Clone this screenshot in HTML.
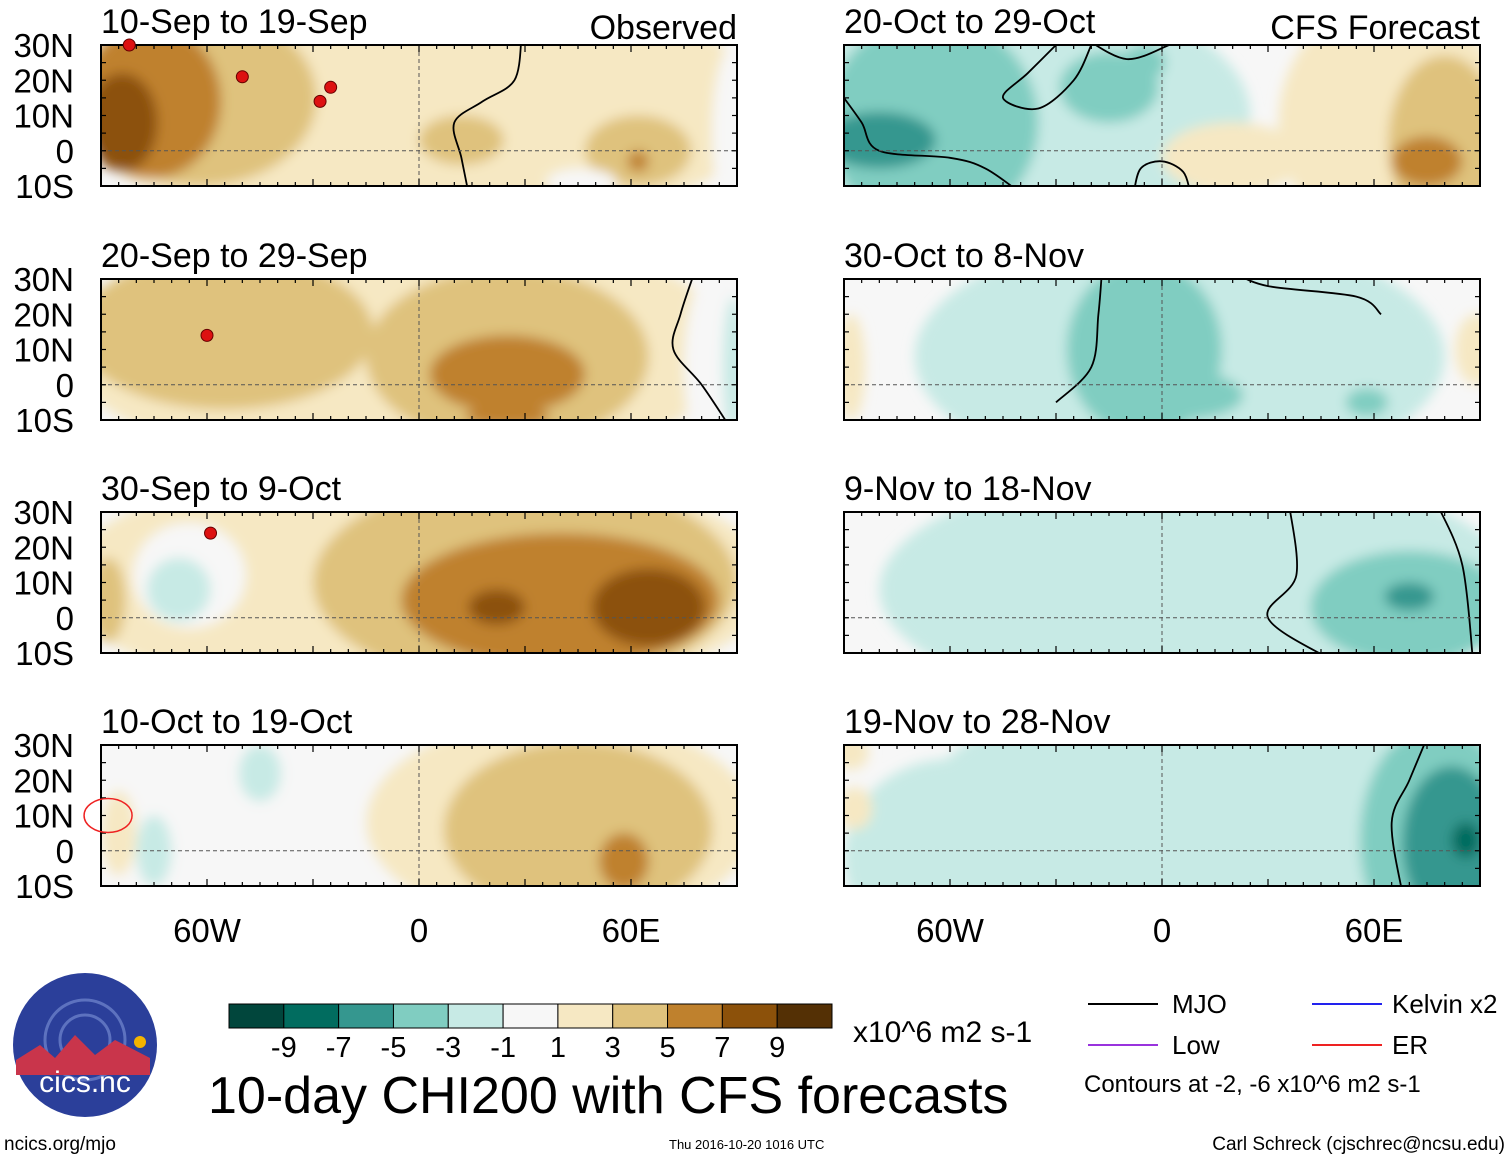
<!DOCTYPE html>
<html><head><meta charset="utf-8"><title>10-day CHI200 with CFS forecasts</title>
<style>
html,body{margin:0;padding:0;background:#fff;}
svg{display:block;font-family:"Liberation Sans",Arial,sans-serif;}
</style></head>
<body>
<svg id="chart" width="1510" height="1159" viewBox="0 0 1510 1159" xmlns="http://www.w3.org/2000/svg">
<defs id="defs"><filter id="blur" x="-20%" y="-20%" width="140%" height="140%"><feGaussianBlur stdDeviation="6"/></filter></defs>
<g id="panels"></g>
<g id="colorbar"></g>
<text x="853" y="1042" font-size="30">x10^6 m2 s-1</text>
<text x="208" y="1113" font-size="52">10-day CHI200 with CFS forecasts</text>
<text x="4" y="1150" font-size="19">ncics.org/mjo</text>
<text x="669" y="1149" font-size="13">Thu 2016-10-20 1016 UTC</text>
<text x="1505" y="1150" font-size="19" text-anchor="end">Carl Schreck (cjschrec@ncsu.edu)</text>
<g font-size="26">
<line x1="1088" y1="1004" x2="1158" y2="1004" stroke="#000" stroke-width="2"/><text x="1172" y="1013">MJO</text>
<line x1="1312" y1="1004" x2="1382" y2="1004" stroke="#2222ee" stroke-width="2"/><text x="1392" y="1013">Kelvin x2</text>
<line x1="1088" y1="1045" x2="1158" y2="1045" stroke="#9933dd" stroke-width="2"/><text x="1172" y="1054">Low</text>
<line x1="1312" y1="1045" x2="1382" y2="1045" stroke="#ee2222" stroke-width="2"/><text x="1392" y="1054">ER</text>
<text x="1084" y="1092" font-size="24">Contours at -2, -6 x10^6 m2 s-1</text>
</g>
<g>
<circle cx="85" cy="1045" r="72" fill="#2b3f9a"/>
<circle cx="85" cy="1040" r="40" fill="none" stroke="#7f95d8" stroke-width="3" opacity="0.6"/>
<circle cx="85" cy="1040" r="25" fill="none" stroke="#7f95d8" stroke-width="3" opacity="0.6"/>
<path d="M16,1060 L40,1045 L55,1058 L75,1035 L95,1055 L115,1040 L150,1058 L150,1075 L16,1075Z" fill="#c9354b"/>
<circle cx="140" cy="1042" r="6" fill="#f4b400"/>
<text x="85" y="1092" font-size="30" fill="#ffffff" text-anchor="middle">cics.nc</text>
</g>
</svg>
<script>
// Colorbar levels and colours
var levelLabels = ["-9","-7","-5","-3","-1","1","3","5","7","9"];
var levelColors = ["#01463c","#016c5f","#35978f","#80cdc1","#c7eae5","#f7f7f7","#f6e8c3","#dfc27d","#bf812d","#8c510a","#543005"];
var lonTicks = [-60,0,60];
var lonTickLabels = ["60W","0","60E"];
var latTicks = [30,20,10,0,-10];
var latTickLabels = ["30N","20N","10N","0","10S"];
var panelTitles = ["10-Sep to 19-Sep","20-Sep to 29-Sep","30-Sep to 9-Oct","10-Oct to 19-Oct","20-Oct to 29-Oct","30-Oct to 8-Nov","9-Nov to 18-Nov","19-Nov to 28-Nov"];
// anomaly blobs per panel: [lon, lat, lonRadius, latRadius, colourIndex]
var blobs0 = [[0,12,100,35,6],[-62,15,33,25,7],[-76,14,20,22,8],[-84,8,10,14,9],[12,3,12,7,7],[62,0,15,10,7],[62,-3,3,3,8],[89,5,6,25,5],[46,-9,10,4,5]];
var blobs1 = [[-5,10,95,35,6],[-55,15,42,22,7],[25,8,40,25,7],[25,3,22,11,8],[85,5,10,30,5],[89,5,3,20,4],[25,-9,12,3,8]];
var blobs2 = [[0,10,100,35,6],[-65,12,16,15,5],[-68,8,9,9,4],[30,10,60,30,7],[40,5,45,19,8],[65,3,16,11,9],[22,3,8,5,9],[-88,5,5,12,7]];
var blobs3 = [[-30,10,65,35,5],[40,8,55,30,6],[45,6,38,25,7],[58,-3,7,8,8],[-45,22,6,8,4],[-85,5,5,12,6],[-75,0,5,10,4]];
var blobs4 = [[-40,10,65,35,4],[-65,8,30,30,3],[-80,3,16,8,2],[-15,18,14,10,3],[-5,25,6,5,3],[65,8,32,35,6],[80,2,16,25,7],[75,-3,10,7,8],[20,-2,20,10,6]];
var blobs5 = [[5,8,75,35,4],[-5,10,22,25,3],[5,-3,18,7,3],[58,-5,6,4,3],[89,10,6,10,6],[-88,5,4,15,6]];
var blobs6 = [[10,8,90,35,4],[70,3,28,16,3],[70,6,7,4,2],[-88,22,5,8,5]];
var blobs7 = [[5,8,75,38,4],[-60,-2,30,28,4],[78,3,22,33,3],[82,2,14,22,2],[86,3,4,5,1],[-87,12,5,6,6],[-88,28,5,5,6]];
var allBlobs = [blobs0,blobs1,blobs2,blobs3,blobs4,blobs5,blobs6,blobs7];
// MJO contour traces per panel: arrays of [lon,lat]
var contours = [
 [[[29,32],[27,20],[18,14],[10,8],[12,-2],[14,-12]]],
 [[[78,32],[74,20],[72,10],[80,0],[88,-12]]],
 [],
 [],
 [[[-90,15],[-85,8],[-80,0],[-60,-2],[-50,-5],[-40,-12]],[[-30,30],[-38,22],[-45,15],[-35,12],[-25,20],[-20,30]],[[-8,-12],[-6,-5],[0,-3],[6,-6],[8,-12]],[[-22,32],[-10,26],[2,30]]],
 [[[-30,-5],[-20,5],[-18,20],[-17,32]],[[20,32],[30,28],[55,25],[62,20]]],
 [[[36,32],[38,12],[30,0],[48,-12]],[[78,32],[85,15],[88,-12]]],
 [[[68,-12],[65,8],[70,20],[75,32]]]
];
var NS='http://www.w3.org/2000/svg';
var panelsG=document.getElementById('panels');
function mk(tag,attrs,parent){var e=document.createElementNS(NS,tag);for(var k in attrs)e.setAttribute(k,attrs[k]);parent.appendChild(e);return e;}
var colX=[101,844], rowY=[45,279,512,745], PW=636, PH=141;
function xs(px,lon){return px+(lon+90)/180*PW;}
function ys(py,lat){return py+(30-lat)/40*PH;}
function smooth(pts){
 var d='M'+pts[0][0].toFixed(1)+','+pts[0][1].toFixed(1);
 for(var i=0;i<pts.length-1;i++){
  var p0=pts[Math.max(i-1,0)],p1=pts[i],p2=pts[i+1],p3=pts[Math.min(i+2,pts.length-1)];
  var c1=[p1[0]+(p2[0]-p0[0])/6,p1[1]+(p2[1]-p0[1])/6],c2=[p2[0]-(p3[0]-p1[0])/6,p2[1]-(p3[1]-p1[1])/6];
  d+=' C'+c1[0].toFixed(1)+','+c1[1].toFixed(1)+' '+c2[0].toFixed(1)+','+c2[1].toFixed(1)+' '+p2[0].toFixed(1)+','+p2[1].toFixed(1);
 }
 return d;
}
for(var p=0;p<8;p++){
 var px=colX[p<4?0:1], py=rowY[p%4];
 var g=mk('g',{},panelsG);
 
 
 var cp=mk('clipPath',{id:'cp'+p},document.getElementById('defs'));
 mk('rect',{x:px,y:py,width:PW,height:PH},cp);
 var inner=mk('g',{'clip-path':'url(#cp'+p+')'},g);
 mk('rect',{x:px,y:py,width:PW,height:PH,fill:'#f7f7f7'},inner);
 var bg=mk('g',{filter:'url(#blur)'},inner);
 allBlobs[p].forEach(function(b){
  var el=mk('ellipse',{cx:xs(px,b[0]),cy:ys(py,b[1]),rx:b[2]/180*PW,ry:b[3]/40*PH,fill:levelColors[b[4]]},bg);
  
  
 });
 contours[p].forEach(function(c){
  var pts=c.map(function(pt){return [xs(px,pt[0]),ys(py,pt[1])];});
  var el=mk('path',{d:smooth(pts),fill:'none',stroke:'#000','stroke-width':1.8,'stroke-linejoin':'round'},inner);
  
  
 });
 mk('line',{x1:px,x2:px+PW,y1:ys(py,0),y2:ys(py,0),stroke:'#555','stroke-dasharray':'4,3','stroke-width':1},inner);
 mk('line',{x1:xs(px,0),x2:xs(px,0),y1:py,y2:py+PH,stroke:'#555','stroke-dasharray':'4,3','stroke-width':1},inner);
 mk('rect',{x:px,y:py,width:PW,height:PH,fill:'none',stroke:'#000','stroke-width':2},g);
 for(var l=-90;l<=90;l+=5){var tl=(l%30===0)?7:4;
  mk('line',{x1:xs(px,l),x2:xs(px,l),y1:py,y2:py+tl,stroke:'#000','stroke-width':1.2},g);
  mk('line',{x1:xs(px,l),x2:xs(px,l),y1:py+PH,y2:py+PH-tl,stroke:'#000','stroke-width':1.2},g);}
 for(var a=-10;a<=30;a+=5){
  mk('line',{x1:px,x2:px+5,y1:ys(py,a),y2:ys(py,a),stroke:'#000','stroke-width':1.2},g);
  mk('line',{x1:px+PW,x2:px+PW-5,y1:ys(py,a),y2:ys(py,a),stroke:'#000','stroke-width':1.2},g);}
 var t=mk('text',{x:px,y:py-12,'font-size':34},g);
 t.textContent=panelTitles[p];
 
 
 if(p===0||p===4){var h=mk('text',{x:px+PW,y:py-6,'font-size':34,'text-anchor':'end'},g);
  h.textContent=p===0?'Observed':'CFS Forecast';
  
  }
 if(p<4){latTicks.forEach(function(lt,i){
  var tt=mk('text',{x:74,y:ys(py,lt)+12,'font-size':33,'text-anchor':'end'},g);
  tt.textContent=latTickLabels[i];
  
  });}
 if(p%4===3){lonTicks.forEach(function(ln,i){
  var tt=mk('text',{x:xs(px,ln),y:py+PH+56,'font-size':33,'text-anchor':'middle'},g);
  tt.textContent=lonTickLabels[i];
  
  });}
}
// storm markers (observed)
var storms=[[0,-82,30,''],[0,-50,21,'J'],[0,-25,18,'K'],[0,-28,14,'L'],[1,-60,14,'M'],[2,-59,24,'N']];
storms.forEach(function(s){var px=colX[0],py=rowY[s[0]];
 var c=mk('circle',{cx:xs(px,s[1]),cy:ys(py,s[2]),r:6,fill:'#dd1111',stroke:'#600',"stroke-width":1},panelsG);
 
 });
// ER contour (10-Oct panel)
(function(){var px=colX[0],py=rowY[3];
 var e=mk('ellipse',{cx:xs(px,-88),cy:ys(py,10),rx:24,ry:17,fill:'none',stroke:'#ee2222','stroke-width':1.5},panelsG);
 
 })();
// colorbar
var cb=document.getElementById('colorbar'), cbx=229, cbw=603/levelColors.length;
levelColors.forEach(function(c,i){
 var r=mk('rect',{x:cbx+i*cbw,y:1004,width:cbw,height:24,fill:c,stroke:'#000','stroke-width':1},cb);
 
 });
levelLabels.forEach(function(l,i){
 var t=mk('text',{x:cbx+(i+1)*cbw,y:1057,'font-size':29,'text-anchor':'middle'},cb);
 t.textContent=l;
 
 });
</script>
</body></html>
